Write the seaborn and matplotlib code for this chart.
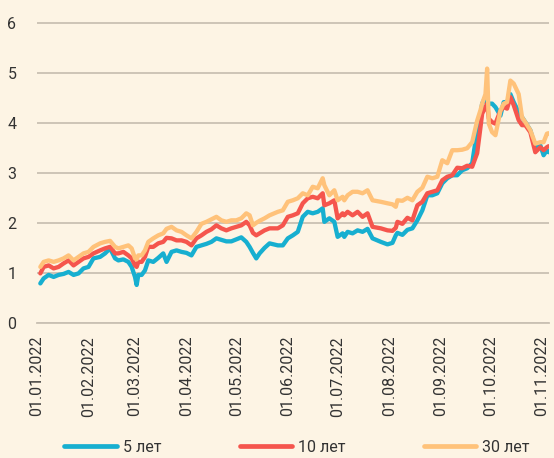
import matplotlib
matplotlib.use("Agg")
import matplotlib.pyplot as plt
import matplotlib.dates as mdates
import seaborn as sns
import pandas as pd

dates = [
    "2022-01-03", "2022-01-05", "2022-01-08", "2022-01-11", "2022-01-14", "2022-01-17", "2022-01-20",
    "2022-01-23", "2022-01-26", "2022-01-29", "2022-02-01", "2022-02-04", "2022-02-08", "2022-02-11",
    "2022-02-14", "2022-02-17", "2022-02-19", "2022-02-22", "2022-02-25", "2022-02-27", "2022-03-01",
    "2022-03-02", "2022-03-03", "2022-03-05", "2022-03-07", "2022-03-09", "2022-03-12", "2022-03-15",
    "2022-03-18", "2022-03-20", "2022-03-23", "2022-03-26", "2022-03-29", "2022-04-01", "2022-04-04",
    "2022-04-07", "2022-04-10", "2022-04-13", "2022-04-16", "2022-04-19", "2022-04-22", "2022-04-25",
    "2022-04-28", "2022-05-01", "2022-05-04", "2022-05-07", "2022-05-09", "2022-05-11", "2022-05-13",
    "2022-05-15", "2022-05-18", "2022-05-21", "2022-05-26", "2022-05-29", "2022-06-01", "2022-06-04",
    "2022-06-07", "2022-06-10", "2022-06-13", "2022-06-16", "2022-06-19", "2022-06-22", "2022-06-23",
    "2022-06-26", "2022-06-29", "2022-07-01", "2022-07-04", "2022-07-05", "2022-07-07", "2022-07-10",
    "2022-07-13", "2022-07-16", "2022-07-19", "2022-07-22", "2022-07-27", "2022-07-31", "2022-08-03",
    "2022-08-05", "2022-08-06", "2022-08-09", "2022-08-12", "2022-08-15", "2022-08-18", "2022-08-21",
    "2022-08-24", "2022-08-27", "2022-08-30", "2022-09-02", "2022-09-05", "2022-09-08", "2022-09-11",
    "2022-09-14", "2022-09-17", "2022-09-20", "2022-09-23", "2022-09-25", "2022-09-26", "2022-09-28",
    "2022-09-29", "2022-09-30", "2022-10-02", "2022-10-04", "2022-10-07", "2022-10-09", "2022-10-11",
    "2022-10-13", "2022-10-15", "2022-10-18", "2022-10-20", "2022-10-22", "2022-10-25", "2022-10-28",
    "2022-10-31", "2022-11-02", "2022-11-04", "2022-11-05",
]

y5 = [
    0.79, 0.89, 0.96, 0.92, 0.96, 0.98, 1.02, 0.96, 0.99, 1.09, 1.12, 1.29, 1.32, 1.39,
    1.49, 1.29, 1.25, 1.27, 1.22, 1.12, 0.92, 0.76, 0.96, 0.96, 1.05, 1.25, 1.22, 1.30,
    1.39, 1.22, 1.42, 1.45, 1.42, 1.40, 1.35, 1.52, 1.55, 1.58, 1.62, 1.69, 1.66, 1.63,
    1.63, 1.67, 1.71, 1.62, 1.52, 1.40, 1.29, 1.39, 1.50, 1.59, 1.55, 1.55, 1.69, 1.75,
    1.82, 2.12, 2.22, 2.19, 2.22, 2.29, 2.02, 2.09, 2.02, 1.72, 1.79, 1.72, 1.82, 1.79,
    1.85, 1.82, 1.88, 1.69, 1.62, 1.57, 1.60, 1.75, 1.80, 1.76, 1.86, 1.89, 2.05, 2.25,
    2.55, 2.55, 2.59, 2.79, 2.89, 2.95, 2.95, 3.05, 3.09, 3.19, 3.85, 4.15, 4.38, 4.51,
    4.38, 4.38, 4.38, 4.31, 4.14, 4.41, 4.41, 4.57, 4.41, 4.21, 4.11, 4.01, 3.85, 3.51,
    3.55, 3.35, 3.45, 3.41,
]

y10 = [
    0.99, 1.12, 1.15, 1.09, 1.12, 1.19, 1.25, 1.15, 1.22, 1.29, 1.32, 1.39, 1.45, 1.49,
    1.52, 1.39, 1.39, 1.42, 1.35, 1.29, 1.15, 1.12, 1.22, 1.22, 1.32, 1.52, 1.52, 1.59,
    1.62, 1.70, 1.69, 1.65, 1.65, 1.62, 1.55, 1.69, 1.75, 1.82, 1.87, 1.95, 1.89, 1.85,
    1.89, 1.92, 1.95, 2.02, 1.95, 1.80, 1.75, 1.79, 1.85, 1.89, 1.89, 1.95, 2.12, 2.15,
    2.19, 2.39, 2.49, 2.52, 2.49, 2.59, 2.35, 2.39, 2.45, 2.09, 2.19, 2.15, 2.22, 2.15,
    2.22, 2.12, 2.19, 1.92, 1.89, 1.85, 1.84, 1.90, 2.02, 1.98, 2.10, 2.05, 2.35, 2.42,
    2.59, 2.62, 2.65, 2.85, 2.92, 2.95, 3.10, 3.09, 3.14, 3.12, 3.39, 3.91, 4.18, 4.31,
    4.38, 4.08, 4.01, 3.98, 4.24, 4.31, 4.28, 4.51, 4.35, 4.05, 3.95, 3.95, 3.81, 3.41,
    3.51, 3.45, 3.51, 3.53,
]

y30 = [
    1.12, 1.22, 1.25, 1.22, 1.25, 1.29, 1.35, 1.25, 1.32, 1.39, 1.42, 1.52, 1.59, 1.62,
    1.64, 1.52, 1.49, 1.52, 1.55, 1.49, 1.29, 1.27, 1.35, 1.35, 1.45, 1.62, 1.69, 1.75,
    1.79, 1.88, 1.92, 1.85, 1.82, 1.75, 1.69, 1.82, 1.98, 2.02, 2.07, 2.12, 2.05, 2.02,
    2.05, 2.05, 2.09, 2.19, 2.15, 1.95, 2.00, 2.04, 2.09, 2.15, 2.22, 2.25, 2.42, 2.45,
    2.49, 2.59, 2.55, 2.72, 2.69, 2.89, 2.75, 2.55, 2.65, 2.45, 2.52, 2.45, 2.55, 2.62,
    2.62, 2.59, 2.65, 2.45, 2.42, 2.39, 2.37, 2.32, 2.45, 2.44, 2.50, 2.45, 2.62, 2.70,
    2.92, 2.89, 2.92, 3.25, 3.19, 3.45, 3.45, 3.46, 3.49, 3.61, 4.04, 4.25, 4.38, 4.57,
    5.08, 3.98, 3.81, 3.75, 4.24, 4.38, 4.41, 4.84, 4.78, 4.57, 4.11, 4.01, 3.85, 3.58,
    3.61, 3.61, 3.78, 3.79,
]

series_names = ["5 лет", "10 лет", "30 лет"]
colors = ["#17AFD0", "#F5554D", "#FFC27A"]
bg = "#FDF4E4"
grid_c = "#C9C0B3"
text_c = "#333333"

df = pd.concat([
    pd.DataFrame({"date": pd.to_datetime(dates), "value": vals, "series": name})
    for name, vals in zip(series_names, [y5, y10, y30])
], ignore_index=True)

sns.set_theme(style="white")
plt.rcParams["font.family"] = ["Roboto", "DejaVu Sans"]

fig = plt.figure(figsize=(5.54, 4.58), dpi=100, facecolor=bg)
ax = fig.add_axes([37 / 554, 1 - 323 / 458, (549 - 37) / 554, (323 - 22) / 458])
ax.set_facecolor(bg)

sns.lineplot(data=df, x="date", y="value", hue="series", hue_order=series_names,
             palette=colors, linewidth=3.1, ax=ax, legend=True)

ax.set_xlim(pd.Timestamp("2022-01-01"), pd.Timestamp("2022-11-05 06:00"))
ax.set_ylim(0, 6.01)
ax.set_yticks([0, 1, 2, 3, 4, 5, 6])
ax.yaxis.grid(True, color=grid_c, linewidth=1.3)
ax.xaxis.grid(False)
ax.set_axisbelow(True)

ax.xaxis.set_major_locator(mdates.MonthLocator())
ax.xaxis.set_major_formatter(mdates.DateFormatter("%d.%m.%Y"))
for s in ["left", "right", "top"]:
    ax.spines[s].set_visible(False)
ax.spines["bottom"].set_color(grid_c)
ax.spines["bottom"].set_linewidth(1.3)

ax.tick_params(axis="x", direction="inout", length=7.5, width=1.0, color=grid_c,
               pad=5.5, labelsize=11.5, labelcolor=text_c, labelrotation=90)
ax.tick_params(axis="y", length=0, pad=18, labelsize=11.5, labelcolor=text_c)
for lbl in ax.get_yticklabels():
    lbl.set_horizontalalignment("center")
ax.set_xlabel("")
ax.set_ylabel("")

handles, labels = ax.get_legend_handles_labels()
ax.get_legend().remove()
leg = fig.legend(handles, labels, loc="center", bbox_to_anchor=(0.536, 0.024),
                 ncol=3, frameon=False, fontsize=11.5, handlelength=3.3,
                 handletextpad=0.35, columnspacing=4.9, borderaxespad=0)
for line in leg.get_lines():
    line.set_linewidth(3.4)
for t in leg.get_texts():
    t.set_color(text_c)

fig.savefig("out.png", dpi=100, facecolor=bg)
